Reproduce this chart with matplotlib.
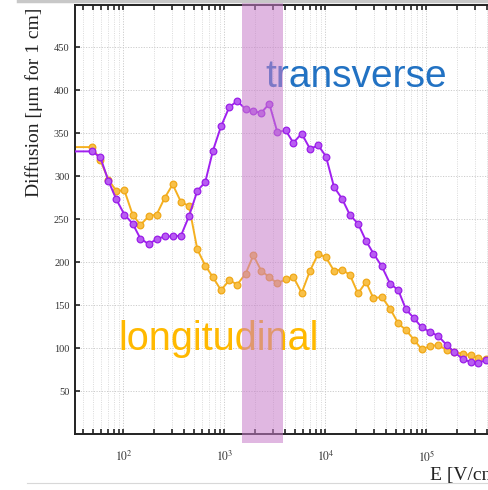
import math

import matplotlib
matplotlib.use("Agg")
import matplotlib.pyplot as plt
from matplotlib.lines import Line2D
from matplotlib.ticker import LogLocator, FixedLocator, FuncFormatter, NullFormatter

# electric field [V/cm]
field = [30, 49, 59, 71, 85, 102, 123, 147, 178, 213, 256, 307, 371, 445, 538,
         645, 769, 923, 1115, 1338, 1622, 1928, 2313, 2777, 3333, 4036, 4800,
         5810, 7023, 8486, 10115, 12140, 14570, 17480, 20980, 25180, 29870,
         36010, 43520, 52570, 62660, 75720, 89650, 108300, 130900, 158500,
         188500, 228200, 273900, 325800, 388200]

# diffusion [um for 1 cm]
transverse = [329, 329, 322, 294.5, 273, 255.5, 245, 227.5, 221, 227, 230, 230,
              231, 253.5, 283, 293.4, 330, 358, 380.6, 387.6, 378, 375.6, 374,
              384.5, 351.5, 353.5, 339, 349.7, 332, 336, 323, 287.6, 274, 254.7,
              245, 224.8, 210, 195.3, 175.2, 167.4, 145, 134.5, 124, 119, 114,
              103.5, 95.7, 86.9, 84, 83, 86]
longitudinal = [334, 334, 318.6, 296, 283, 283.7, 255.5, 243.5, 253.5, 255.5,
                275, 290.5, 270, 265.5, 215, 196, 182.5, 167.4, 179, 174, 186.8,
                208, 190, 182.5, 175.5, 180, 183, 164.3, 190, 210, 205.5, 190,
                191.5, 185, 163.6, 177, 157.8, 159.7, 146, 128.7, 121, 109.3,
                98.5, 102.3, 103.5, 97.7, 95.7, 93, 91.9, 88, 86.9]

band = (1490, 3790)
y_ticks = [50, 100, 150, 200, 250, 300, 350, 400, 450]


def decade_label(v, pos):
    if v >= 1e6:
        return ""
    return r"$10^{%d}$" % round(math.log10(v))


plt.rcParams["mathtext.fontset"] = "stix"

W, H = 488, 490
fig = plt.figure(figsize=(W / 100, H / 100), dpi=100)
# axes runs past the right edge of the picture (cropped screenshot)
ax = fig.add_axes([75 / W, 1 - 434 / H, 452.5 / W, 429.5 / H])

ax.plot(field, transverse, color="#a020f0", lw=1.4, marker="o", ms=4.8,
        mfc="#b85cf2", mec="#9a1ee8", mew=0.9, zorder=3)
ax.plot(field, longitudinal, color="#f5b020", lw=1.4, marker="o", ms=4.8,
        mfc="#f8c048", mec="#f0a818", mew=0.9, zorder=2)

ax.set_xscale("log")
ax.set_xlim(33.1, 1e6)
ax.set_ylim(0, 500)

ax.xaxis.set_major_locator(LogLocator(base=10, numticks=10))
ax.xaxis.set_minor_locator(LogLocator(base=10, subs=range(2, 10), numticks=50))
ax.xaxis.set_major_formatter(FuncFormatter(decade_label))
ax.xaxis.set_minor_formatter(NullFormatter())
ax.yaxis.set_major_locator(FixedLocator(y_ticks))

ax.grid(True, which="major", color="#cccccc", lw=0.7, ls=(0, (1.2, 1.5)))
ax.grid(True, which="minor", axis="x", color="#d6d6d6", lw=0.6, ls=(0, (1.2, 1.5)))
ax.set_axisbelow(True)

ax.tick_params(which="both", direction="in", top=True, right=False,
               length=3.5, width=1.1, color="#111111")
ax.tick_params(axis="x", which="major", pad=11, labelsize=8.5, labelcolor="#333333")
ax.tick_params(axis="y", pad=4, labelsize=7.5, labelcolor="#333333")
for lab in ax.get_yticklabels():
    lab.set_family("Liberation Serif")

for s in ax.spines.values():
    s.set_linewidth(1.4)
    s.set_color("#222222")

ax.text(265 / W, 1 - 87 / H, "transverse", transform=fig.transFigure,
        family="Liberation Sans", fontsize=28, color="#2272c3",
        ha="left", va="baseline", zorder=4)
ax.text(118 / W, 1 - 350 / H, "longitudinal", transform=fig.transFigure,
        family="Liberation Sans", fontsize=28.5, color="#ffb900",
        ha="left", va="baseline", zorder=4)

ax.axvspan(band[0], band[1], ymin=-0.021, ymax=1.011, color="#c77dc9",
           alpha=0.55, lw=0, clip_on=False, zorder=5)

fig.text(34 / W, 1 - 102 / H, "Diffusion [\u03bcm for 1 cm]", rotation=90,
         family="Liberation Serif", fontsize=14, color="#222222",
         ha="center", va="center")
fig.text(430 / W, 1 - 475 / H, "E [V/cm]", family="Liberation Serif",
         fontsize=14, color="#222222", ha="left", va="center")

# screenshot border bits
fig.add_artist(Line2D([18 / W, 1], [1 - 1.5 / H, 1 - 1.5 / H],
                      transform=fig.transFigure, color="#c8c8c8", lw=2.5))
fig.add_artist(Line2D([27 / W, 1], [1 - 483 / H, 1 - 483 / H],
                      transform=fig.transFigure, color="#d8d8d8", lw=0.8))

fig.savefig("out.png", dpi=100)
